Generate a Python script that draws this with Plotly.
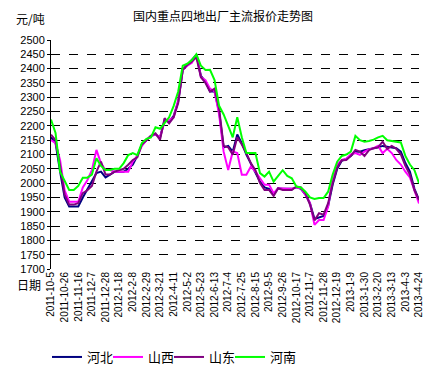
import datetime as dt
import plotly.graph_objects as go

start = dt.date(2011, 10, 5)
dates = [start + dt.timedelta(weeks=i) for i in range(82)]
date_labels = [f"{d.year}-{d.month}-{d.day}" for d in dates]

hebei = [2160, 2140, 2040, 1950, 1918, 1918, 1918, 1950, 1980, 2005,
         2035, 2040, 2020, 2030, 2040, 2040, 2040, 2050, 2065, 2095,
         2135, 2150, 2165, 2170, 2160, 2220, 2215, 2235, 2285, 2396,
         2413, 2430, 2448, 2375, 2355, 2320, 2320, 2250, 2125, 2130,
         2110, 2170, 2140, 2100, 2070, 2040, 2005, 1985, 1980, 1960,
         1982, 1980, 1980, 1980, 1985, 1980, 1960, 1930, 1875, 1880,
         1885, 1920, 1995, 2050, 2078, 2085, 2095, 2110, 2110, 2115,
         2118, 2122, 2125, 2130, 2128, 2125, 2122, 2110, 2070, 2040,
         1980, 1941]

shanxi = [2150, 2140, 2080, 1975, 1935, 1935, 1935, 1985, 2010, 2045,
          2116, 2069, 2046, 2046, 2040, 2040, 2040, 2040, 2075, 2095,
          2130, 2150, 2165, 2170, 2160, 2215, 2220, 2230, 2290, 2396,
          2410, 2420, 2450, 2370, 2360, 2330, 2320, 2240, 2110, 2046,
          2110, 2105, 2029, 2029, 2058, 2040, 2017, 1994, 1994, 1965,
          1982, 1980, 1980, 1980, 1985, 1982, 1960, 1930, 1854, 1871,
          1871, 1918, 2023, 2065, 2081, 2085, 2100, 2105, 2099, 2110,
          2118, 2122, 2130, 2105, 2120, 2105, 2081, 2065, 2040, 2020,
          1975, 1929]

shandong = [2169, 2150, 2060, 1960, 1925, 1925, 1930, 1965, 1975, 1990,
            2040, 2075, 2030, 2030, 2040, 2045, 2050, 2064, 2081, 2090,
            2135, 2150, 2165, 2174, 2151, 2227, 2209, 2230, 2280, 2396,
            2413, 2425, 2440, 2370, 2350, 2320, 2330, 2260, 2130, 2125,
            2099, 2160, 2135, 2105, 2069, 2045, 2000, 1976, 1976, 1955,
            1982, 1976, 1976, 1976, 1988, 1985, 1965, 1925, 1870, 1895,
            1890, 1930, 2000, 2055, 2080, 2081, 2095, 2116, 2110, 2095,
            2115, 2122, 2125, 2145, 2120, 2130, 2120, 2100, 2060, 2030,
            1975, 1941]

henan = [2222, 2175, 2040, 2005, 1976, 1976, 1990, 2019, 2019, 2030,
         2087, 2060, 2046, 2046, 2050, 2050, 2070, 2098, 2105, 2098,
         2140, 2155, 2160, 2195, 2190, 2210, 2230, 2270, 2320, 2410,
         2417, 2430, 2450, 2410, 2395, 2396, 2360, 2270, 2240, 2200,
         2160, 2230, 2160, 2105, 2105, 2105, 2035, 2023, 2040, 2005,
         2025, 2045, 2025, 2017, 1988, 1985, 1970, 1950, 1945, 1948,
         1948, 1970, 2030, 2075, 2095, 2100, 2110, 2165, 2150, 2145,
         2147, 2152, 2160, 2165, 2150, 2148, 2145, 2142, 2095, 2065,
         2045, 2000]

series = [("河北", hebei, "#000080"), ("山西", shanxi, "#FF00FF"),
          ("山东", shandong, "#800080"), ("河南", henan, "#00FF00")]

font = "Liberation Sans, Noto Sans CJK SC, sans-serif"
cjk = "Noto Sans CJK SC, sans-serif"
W, H = 433, 370
legend_px = [47, 108, 169, 230]
legend_ids = ["legend", "legend2", "legend3", "legend4"]

fig = go.Figure()
for (name, vals, color), lid in zip(series, legend_ids):
    fig.add_trace(go.Scatter(x=date_labels, y=vals, mode="lines", name=name,
                             legend=lid, line=dict(color=color, width=2)))

layout_legends = {}
for lid, px in zip(legend_ids, legend_px):
    layout_legends[lid] = dict(xref="container", yref="container",
                               x=px / W, xanchor="left",
                               y=1 - 357 / H, yanchor="middle",
                               font=dict(size=13, family=cjk),
                               bgcolor="rgba(0,0,0,0)", borderwidth=0)

fig.update_layout(
    template="none",
    width=W, height=H,
    margin=dict(l=51, r=14, t=40, b=101, autoexpand=False),
    paper_bgcolor="white", plot_bgcolor="white",
    font=dict(family=font, size=11, color="black"),
    showlegend=True,
    hovermode=False,
    annotations=[
        dict(text="国内重点四地出厂主流报价走势图", xref="paper", yref="paper",
             x=(223 - 51) / 368, y=(269 - 16) / 229, xanchor="center", yanchor="middle",
             showarrow=False, font=dict(size=12, family=cjk)),
        dict(text="元/吨", xref="paper", yref="paper",
             x=(30 - 51) / 368, y=(269 - 19) / 229, xanchor="center", yanchor="middle",
             showarrow=False, font=dict(size=12, family=cjk)),
        dict(text="日期", xref="paper", yref="paper",
             x=(29 - 51) / 368, y=(269 - 284) / 229, xanchor="center", yanchor="middle",
             showarrow=False, font=dict(size=12, family=cjk)),
    ],
    **layout_legends,
)

fig.update_xaxes(type="category", range=[0, 81], tickmode="array",
                 tickvals=date_labels[::3], ticktext=date_labels[::3],
                 tickangle=-90, tickfont=dict(size=10), showgrid=False,
                 showline=False, ticks="", zeroline=False, automargin=False)
fig.update_yaxes(range=[1700, 2500], dtick=50, showgrid=True, gridcolor="black",
                 griddash="dash", gridwidth=1, showline=True, linecolor="black",
                 linewidth=1, ticks="outside", ticklen=3, tickcolor="black",
                 tickfont=dict(size=11), zeroline=False, automargin=False)

fig.write_html("out.html", config={"displayModeBar": False, "staticPlot": True},
               post_script="document.body.style.margin='0';document.body.style.overflow='hidden';")
